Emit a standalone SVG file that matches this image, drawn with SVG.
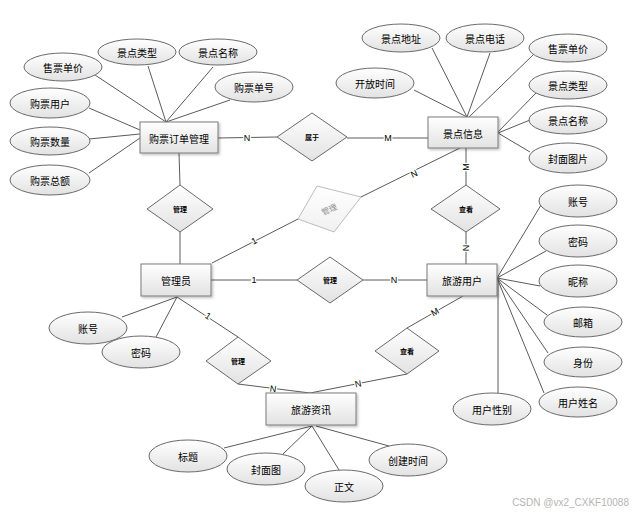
<svg xmlns="http://www.w3.org/2000/svg" width="639" height="517" viewBox="0 0 639 517">
<defs>
<linearGradient id="g" x1="0" y1="0" x2="0" y2="1"><stop offset="0" stop-color="#ffffff"/><stop offset="1" stop-color="#e2e2e2"/></linearGradient>
<linearGradient id="gf" x1="0" y1="0" x2="0" y2="1"><stop offset="0" stop-color="#ffffff"/><stop offset="1" stop-color="#f0f0f0"/></linearGradient>
<filter id="sh" x="-10%" y="-10%" width="130%" height="140%"><feDropShadow dx="1.5" dy="1.5" stdDeviation="0.8" flood-color="#000" flood-opacity="0.25"/></filter>
</defs>
<style>
.e{fill:url(#g);stroke:#6a6a6a;stroke-width:1}
.r{fill:url(#g);stroke:#7a7a7a;stroke-width:1;filter:url(#sh)}
.d{fill:url(#g);stroke:#6a6a6a;stroke-width:1}
.df{fill:url(#gf);stroke:#bdbdbd;stroke-width:1}
.t{font-family:"Noto Sans CJK SC","Liberation Sans",sans-serif;font-size:10px;fill:#000;text-anchor:middle;dominant-baseline:central}
.dt{font-family:"Noto Sans CJK SC","Liberation Sans",sans-serif;font-size:7px;font-weight:bold;fill:#000;text-anchor:middle;dominant-baseline:central}
.l{font-family:"Liberation Sans",sans-serif;font-size:9px;fill:#000;text-anchor:middle;dominant-baseline:central;stroke:#fff;stroke-width:2.5px;paint-order:stroke}
#connectors line{stroke:#5a5a5a;stroke-width:1}
</style>
<rect width="639" height="517" fill="#fff"/>
<g id="connectors">
<line x1="218" y1="138" x2="277" y2="137"/>
<line x1="347" y1="138" x2="428" y2="138"/>
<line x1="179" y1="153" x2="180" y2="185"/>
<line x1="180" y1="232" x2="180" y2="264"/>
<line x1="466" y1="148" x2="466" y2="185"/>
<line x1="466" y1="232" x2="466" y2="264"/>
<line x1="460" y1="148" x2="361" y2="197"/>
<line x1="298" y1="219" x2="212" y2="263"/>
<line x1="211" y1="280" x2="297" y2="280"/>
<line x1="363" y1="280" x2="427" y2="280"/>
<line x1="177" y1="297" x2="238" y2="337"/>
<line x1="238" y1="384" x2="310" y2="393"/>
<line x1="463" y1="296" x2="407" y2="328"/>
<line x1="407" y1="374" x2="310" y2="393"/>
<line x1="95" y1="75" x2="166" y2="122"/>
<line x1="148" y1="66" x2="166" y2="122"/>
<line x1="213" y1="67" x2="166" y2="122"/>
<line x1="230" y1="100" x2="166" y2="122"/>
<line x1="89" y1="108" x2="140" y2="130"/>
<line x1="89" y1="139" x2="140" y2="134"/>
<line x1="89" y1="173" x2="140" y2="138"/>
<line x1="414" y1="90" x2="467" y2="117"/>
<line x1="432" y1="48" x2="467" y2="117"/>
<line x1="490" y1="53" x2="467" y2="117"/>
<line x1="533" y1="55" x2="469" y2="117"/>
<line x1="536" y1="93" x2="498" y2="132"/>
<line x1="530" y1="120" x2="498" y2="133"/>
<line x1="530" y1="152" x2="498" y2="133"/>
<line x1="541" y1="205" x2="497" y2="278"/>
<line x1="546" y1="251" x2="497" y2="278"/>
<line x1="540" y1="286" x2="497" y2="278"/>
<line x1="547" y1="315" x2="497" y2="278"/>
<line x1="548" y1="353" x2="497" y2="278"/>
<line x1="544" y1="393" x2="497" y2="278"/>
<line x1="498" y1="280" x2="498" y2="393"/>
<line x1="122" y1="317" x2="177" y2="297"/>
<line x1="156" y1="337" x2="177" y2="297"/>
<line x1="224" y1="448" x2="312" y2="426"/>
<line x1="283" y1="454" x2="312" y2="426"/>
<line x1="339" y1="470" x2="312" y2="426"/>
<line x1="389" y1="446" x2="316" y2="426"/>
<text class="l" x="247" y="138">N</text>
<text class="l" x="388" y="138">M</text>
<text class="l" transform="translate(466,167) rotate(-90)">M</text>
<text class="l" transform="translate(466,248) rotate(-90)">N</text>
<text class="l" transform="translate(414,174) rotate(-26)">N</text>
<text class="l" transform="translate(254,241) rotate(-27)">1</text>
<text class="l" x="254" y="280">1</text>
<text class="l" x="394" y="280">N</text>
<text class="l" transform="translate(208,316) rotate(33)">1</text>
<text class="l" transform="translate(273,389) rotate(7)">N</text>
<text class="l" transform="translate(358,384) rotate(-11)">N</text>
<text class="l" transform="translate(435,312) rotate(-30)">M</text>
</g>
<g id="e-gpdd"><rect class="r" x="140" y="122" width="78" height="31"/><text class="t" x="179" y="138">购票订单管理</text></g>
<g id="e-jdxx"><rect class="r" x="428" y="117" width="70" height="31"/><text class="t" x="463" y="133">景点信息</text></g>
<g id="e-gly"><rect class="r" x="141" y="264" width="70" height="32"/><text class="t" x="176" y="280">管理员</text></g>
<g id="e-lyyh"><rect class="r" x="427" y="264" width="70" height="32"/><text class="t" x="462" y="280">旅游用户</text></g>
<g id="e-lyzx"><rect class="r" x="266" y="393" width="90" height="32"/><text class="t" x="311" y="409">旅游资讯</text></g>
<g id="r-sy"><polygon class="d" points="277,137 312,113 347,137 312,161"/><text class="dt" x="312" y="137">属于</text></g>
<g id="r-gl1"><polygon class="d" points="147,209 180,185 213,209 180,232"/><text class="dt" x="180" y="209">管理</text></g>
<g id="r-gl2"><polygon class="df" points="298,219 317,186 361,197 334,232"/><text class="dt" style="fill:#8a8a8a;font-weight:normal;font-size:8px" transform="translate(329,209) rotate(-25)">管理</text></g>
<g id="r-gl3"><polygon class="d" points="297,280 330,257 363,280 330,303"/><text class="dt" x="330" y="280">管理</text></g>
<g id="r-ck1"><polygon class="d" points="431,209 466,185 500,209 466,232"/><text class="dt" x="466" y="209">查看</text></g>
<g id="r-gl4"><polygon class="d" points="206,361 238,337 271,361 238,384"/><text class="dt" x="238" y="361">管理</text></g>
<g id="r-ck2"><polygon class="d" points="375,351 407,328 439,351 407,374"/><text class="dt" x="407" y="351">查看</text></g>
<g id="a1"><ellipse class="e" cx="63" cy="67" rx="39" ry="14"/><text class="t" x="63" y="67">售票单价</text></g>
<g id="a2"><ellipse class="e" cx="137" cy="52" rx="39" ry="13"/><text class="t" x="137" y="52">景点类型</text></g>
<g id="a3"><ellipse class="e" cx="218" cy="52" rx="39" ry="13"/><text class="t" x="218" y="52">景点名称</text></g>
<g id="a4"><ellipse class="e" cx="254" cy="87" rx="39" ry="15"/><text class="t" x="254" y="87">购票单号</text></g>
<g id="a5"><ellipse class="e" cx="50" cy="103" rx="40" ry="15"/><text class="t" x="50" y="103">购票用户</text></g>
<g id="a6"><ellipse class="e" cx="50" cy="141" rx="40" ry="14"/><text class="t" x="50" y="141">购票数量</text></g>
<g id="a7"><ellipse class="e" cx="50" cy="180" rx="40" ry="15"/><text class="t" x="50" y="180">购票总额</text></g>
<g id="b1"><ellipse class="e" cx="401" cy="38" rx="39" ry="14"/><text class="t" x="401" y="38">景点地址</text></g>
<g id="b2"><ellipse class="e" cx="485" cy="38" rx="39" ry="14"/><text class="t" x="485" y="38">景点电话</text></g>
<g id="b3"><ellipse class="e" cx="568" cy="48" rx="39" ry="14"/><text class="t" x="568" y="48">售票单价</text></g>
<g id="b4"><ellipse class="e" cx="375" cy="83" rx="39" ry="15"/><text class="t" x="375" y="83">开放时间</text></g>
<g id="b5"><ellipse class="e" cx="568" cy="85" rx="39" ry="14"/><text class="t" x="568" y="85">景点类型</text></g>
<g id="b6"><ellipse class="e" cx="568" cy="120" rx="39" ry="14"/><text class="t" x="568" y="120">景点名称</text></g>
<g id="b7"><ellipse class="e" cx="568" cy="158" rx="39" ry="15"/><text class="t" x="568" y="158">封面图片</text></g>
<g id="c1"><ellipse class="e" cx="578" cy="201" rx="39" ry="16"/><text class="t" x="578" y="201">账号</text></g>
<g id="c2"><ellipse class="e" cx="578" cy="241" rx="39" ry="16"/><text class="t" x="578" y="241">密码</text></g>
<g id="c3"><ellipse class="e" cx="578" cy="281" rx="39" ry="16"/><text class="t" x="578" y="281">昵称</text></g>
<g id="c4"><ellipse class="e" cx="583" cy="322" rx="39" ry="15"/><text class="t" x="583" y="322">邮箱</text></g>
<g id="c5"><ellipse class="e" cx="583" cy="362" rx="39" ry="15"/><text class="t" x="583" y="362">身份</text></g>
<g id="c6"><ellipse class="e" cx="578" cy="402" rx="39" ry="15"/><text class="t" x="578" y="402">用户姓名</text></g>
<g id="c7"><ellipse class="e" cx="492" cy="409" rx="39" ry="16"/><text class="t" x="492" y="409">用户性别</text></g>
<g id="d1"><ellipse class="e" cx="88" cy="328" rx="39" ry="16"/><text class="t" x="88" y="328">账号</text></g>
<g id="d2"><ellipse class="e" cx="141" cy="352" rx="39" ry="16"/><text class="t" x="141" y="352">密码</text></g>
<g id="f1"><ellipse class="e" cx="188" cy="456" rx="39" ry="16"/><text class="t" x="188" y="456">标题</text></g>
<g id="f2"><ellipse class="e" cx="266" cy="469" rx="39" ry="16"/><text class="t" x="266" y="469">封面图</text></g>
<g id="f3"><ellipse class="e" cx="344" cy="486" rx="39" ry="16"/><text class="t" x="344" y="486">正文</text></g>
<g id="f4"><ellipse class="e" cx="408" cy="460" rx="39" ry="16"/><text class="t" x="408" y="460">创建时间</text></g>
<text x="629" y="506" text-anchor="end" style="font-family:'Liberation Sans',sans-serif;font-size:10px;fill:#b4b4b4">CSDN @vx2_CXKF10088</text>
</svg>
